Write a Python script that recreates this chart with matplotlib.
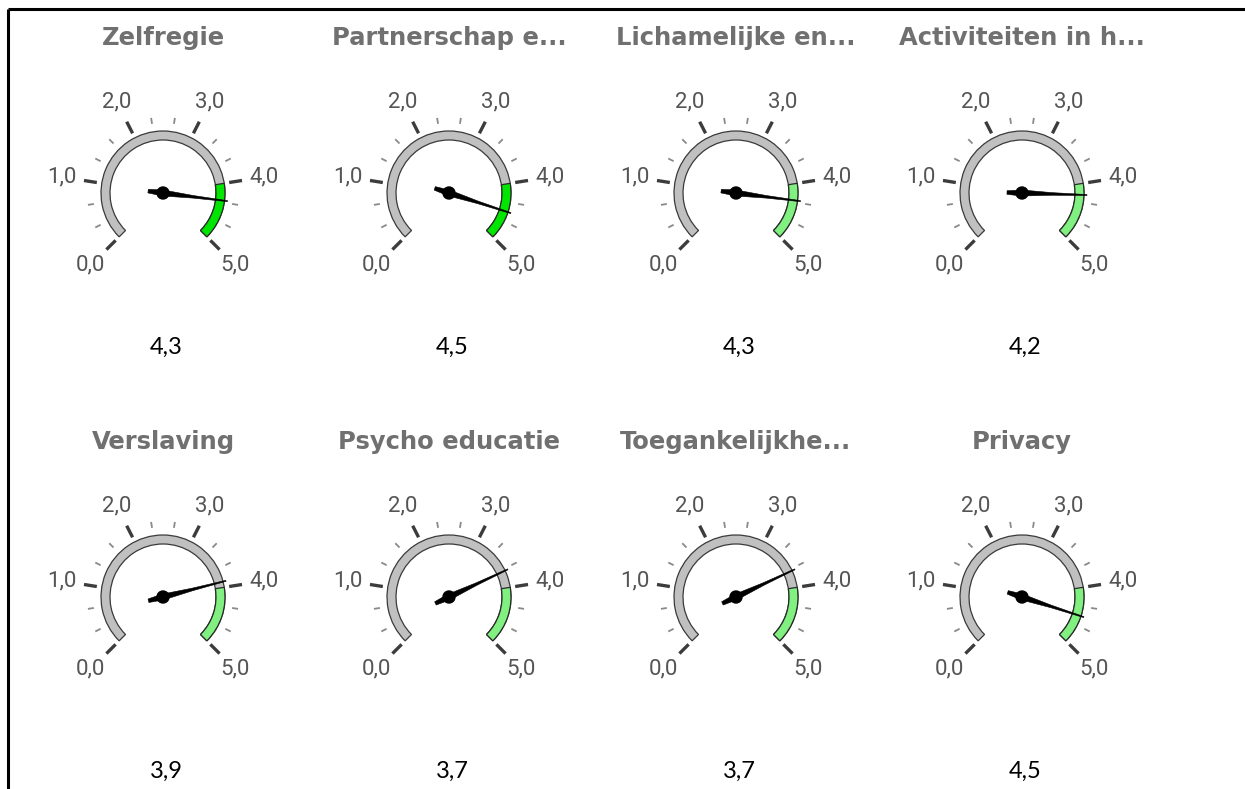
import numpy as np
import matplotlib
matplotlib.use("Agg")
import matplotlib.pyplot as plt
from matplotlib.patches import Wedge, Circle, Polygon

# scores per theme (scale 0-5)
titles = ["Zelfregie", "Partnerschap e...", "Lichamelijke en...", "Activiteiten in h...",
          "Verslaving", "Psycho educatie", "Toegankelijkhe...", "Privacy"]
scores = [4.3, 4.5, 4.3, 4.2, 3.9, 3.7, 3.7, 4.5]
band_colors = ["#00e600", "#00e600", "#80f080", "#80f080",
               "#80f080", "#80f080", "#80f080", "#80f080"]
band_range = [4.0, 5.0]
scale_min, scale_max = 0.0, 5.0
major_ticks = [0, 1, 2, 3, 4, 5]

W, H = 1245, 789
col_x = [163, 449, 736, 1022]
row_y = [193, 597]          # pivot rows (pixels from top)
title_y = [38, 442]
value_y = [347, 771]

R_OUT, R_IN = 62, 53
A0, SWEEP = 225.0, 270.0


def ang(v):
    return A0 - SWEEP * (v - scale_min) / (scale_max - scale_min)


def fmt(v):
    return f"{v:.1f}".replace(".", ",")


fig = plt.figure(figsize=(W / 100, H / 100), dpi=100)
ax = fig.add_axes([0, 0, 1, 1])
ax.set_xlim(0, W)
ax.set_ylim(0, H)
ax.axis("off")

# frame lines top and left
ax.plot([8, W], [H - 9, H - 9], color="black", lw=2.2, solid_capstyle="butt")
ax.plot([8, 8], [H - 9, 0], color="black", lw=2.2, solid_capstyle="butt")


def gauge(cx, cy, ty, vy, title, score, band_col):
    # background arc
    ax.add_patch(Wedge((cx, cy), R_OUT, ang(scale_max), ang(scale_min), width=R_OUT - R_IN,
                       facecolor="#c0c0c0", edgecolor="#3a3a3a", lw=0.9))
    # highlighted range
    ax.add_patch(Wedge((cx, cy), R_OUT, ang(band_range[1]), ang(band_range[0]),
                       width=R_OUT - R_IN, facecolor=band_col, edgecolor="#2a2a2a", lw=0.9))
    # minor ticks
    for v in np.arange(scale_min, scale_max + 1e-9, 1 / 3):
        if abs(v - round(v)) < 1e-6:
            continue
        t = np.radians(ang(v))
        ax.plot([cx + 70 * np.cos(t), cx + 76 * np.cos(t)],
                [cy + 70 * np.sin(t), cy + 76 * np.sin(t)],
                color="#8a8a8a", lw=1.3, solid_capstyle="butt")
    # major ticks and labels
    for v in major_ticks:
        t = np.radians(ang(v))
        ax.plot([cx + 67 * np.cos(t), cx + 80 * np.cos(t)],
                [cy + 67 * np.sin(t), cy + 80 * np.sin(t)],
                color="#3c3c3c", lw=2.4, solid_capstyle="butt")
        ax.text(cx + 102 * np.cos(t), cy + 102 * np.sin(t), fmt(v),
                ha="center", va="center", fontsize=16, color="#555555",
                family="Roboto")
    # needle
    t = np.radians(ang(score))
    d = np.array([np.cos(t), np.sin(t)])
    n = np.array([-d[1], d[0]])
    c = np.array([cx, cy])
    pts = [c - 15 * d + 1.8 * n, c + 3.0 * n, c + 30 * d + 1.3 * n, c + 65 * d + 0.5 * n,
           c + 65 * d - 0.5 * n, c + 30 * d - 1.3 * n, c - 3.0 * n, c - 15 * d - 1.8 * n]
    ax.add_patch(Polygon(pts, closed=True, facecolor="black", edgecolor="black", lw=0.4))
    ax.add_patch(Circle((cx, cy), 6, facecolor="black", edgecolor="black"))

    ax.text(cx, ty, title, ha="center", va="center", fontsize=17.5,
            fontweight="bold", color="#707070", family="DejaVu Sans")
    ax.text(cx + 3, vy, fmt(score), ha="center", va="center",
            fontsize=17, color="black", family="Lato")


for i, (title, score, col) in enumerate(zip(titles, scores, band_colors)):
    r, k = divmod(i, 4)
    gauge(col_x[k], H - row_y[r], H - title_y[r], H - value_y[r], title, score, col)

fig.savefig("out.png", dpi=100, facecolor="white")
